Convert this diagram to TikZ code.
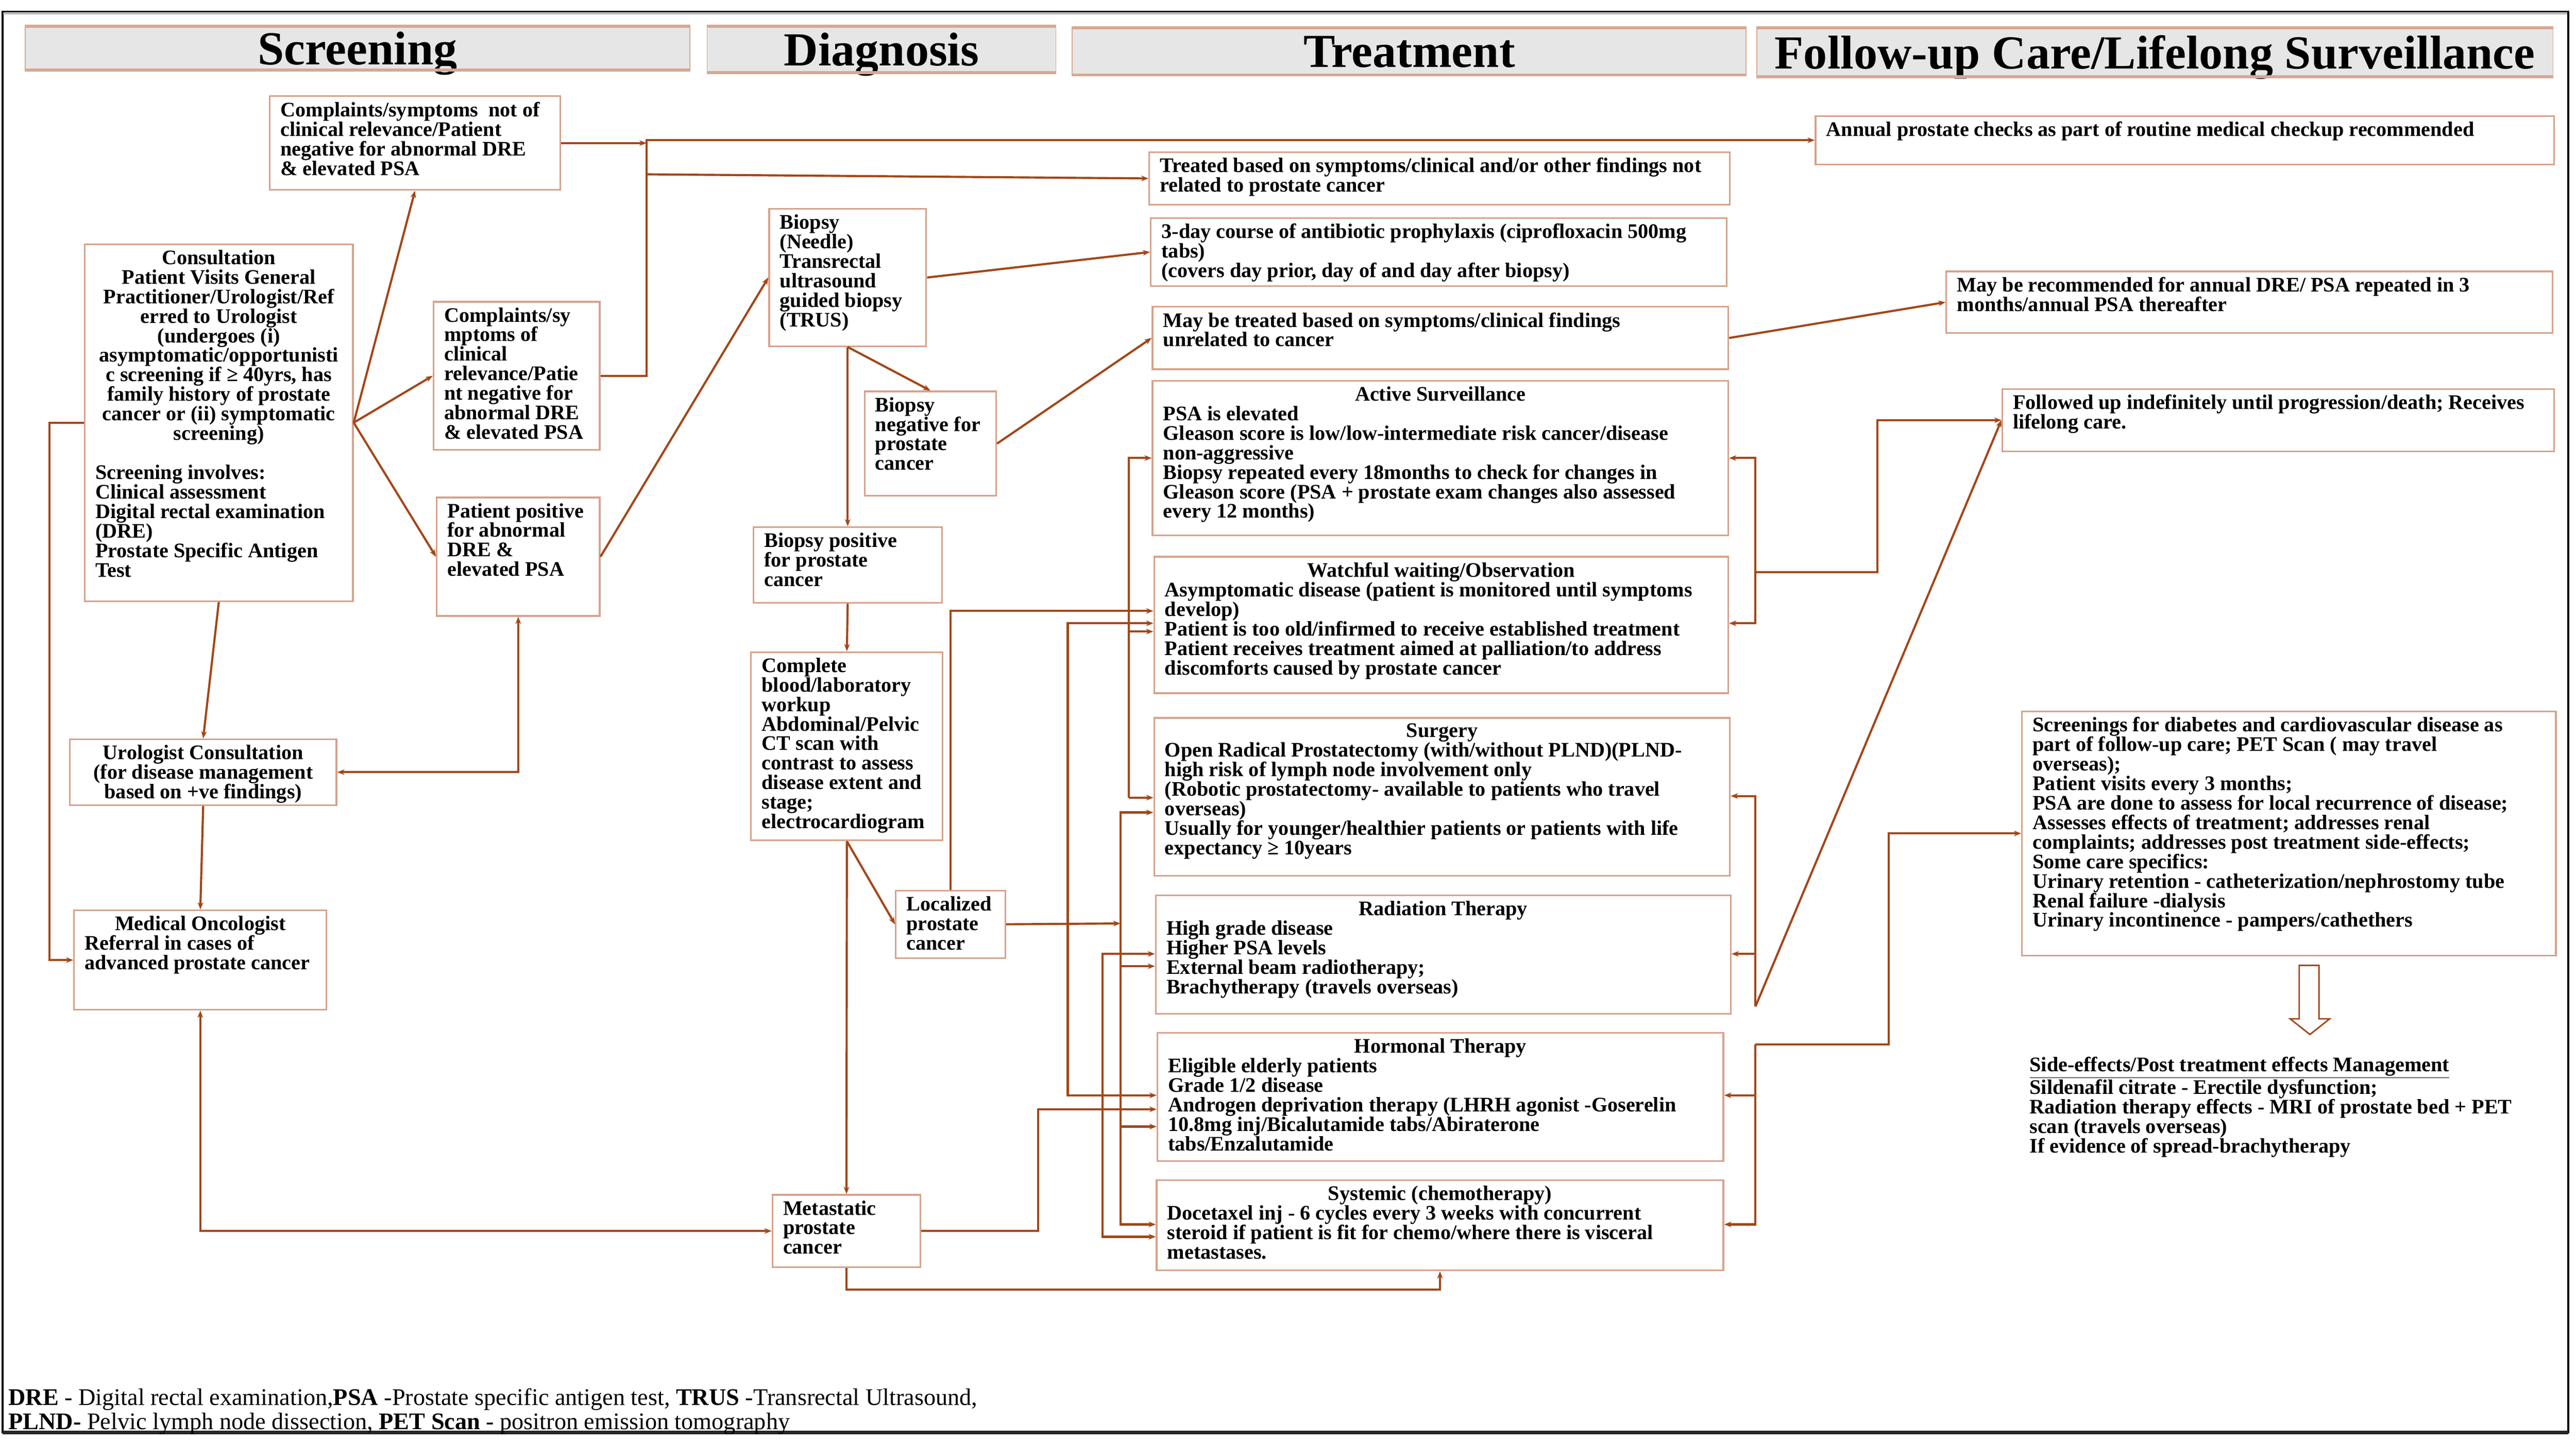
\documentclass[tikz,border=0pt]{standalone}
\usepackage{fontspec}
\setmainfont{Liberation Serif}
\usetikzlibrary{arrows.meta,calc}
\definecolor{conn}{RGB}{163,70,24}
\definecolor{boxc}{RGB}{214,162,138}
\definecolor{hdrfill}{RGB}{231,230,230}
\definecolor{hdrline}{RGB}{214,168,146}
\newlength\un \setlength\un{0.5mm}
\newlength\bxs \setlength\bxs{3.25mm}
\newlength\bys \setlength\bys{1.75mm}
\newcommand\bodyfont{\fontsize{17.9}{16.9}\selectfont\bfseries}
\newcommand\footfont{\fontsize{20.6}{20.9}\selectfont}
\newcommand\hdrfont{\fontsize{41}{45}\selectfont\bfseries}
\newcommand\flowbox[7][]{\node[box,#1] (#2) at (#3,#4) {\parbox[c][\dimexpr #6\un-#4\un-2\bys\relax][t]{\dimexpr #5\un-#3\un-2\bxs\relax}{\raggedright #7}};}
\newcommand\hdrbox[6]{%
  \node[hdr, minimum width={(#4-#2)*0.5mm}, minimum height={(#5-#3)*0.5mm}] (#1) at (#2,#3) {#6};
  \draw[hdrline, line width=0.9mm] (#1.north west) -- (#1.north east) (#1.south west) -- (#1.south east);}
\tikzset{
  box/.style={draw=boxc, line width=0.5mm, fill=white, anchor=north west, inner xsep=\bxs, inner ysep=\bys, font=\bodyfont, text=black},
  hdr/.style={draw=hdrline, line width=0.3mm, fill=hdrfill, anchor=north west, inner sep=0pt, text depth=0pt, font=\hdrfont},
  ln/.style={draw=conn, line width=0.65mm},
  arr/.style={ln, -{Stealth[length=2.2mm,width=1.7mm]}},
  arrr/.style={ln, {Stealth[length=2.2mm,width=1.7mm]}-{Stealth[length=2.2mm,width=1.7mm]}},
}
\begin{document}
\begin{tikzpicture}[x=0.5mm, y=-0.5mm]
\useasboundingbox (0,0) rectangle (1565.75,876);
\fill[white] (0,0) rectangle (1565.75,876);
% frame
\draw[black, line width=0.55mm] (1.5,7) rectangle (1561,871);
\draw[gray!60, line width=0.4mm] (2,8.3) -- (1560.5,8.3);
\draw[black!85, line width=1.1mm] (1.5,871) -- (1561,871);

% headers
\hdrbox{hScr}{15}{16}{419}{42}{Screening}
\hdrbox{hDia}{429.5}{16}{641.5}{43.5}{Diagnosis}
\hdrbox{hTre}{651.5}{17}{1061}{45}{Treatment}
\hdrbox{hFol}{1067.5}{17}{1551.5}{46}{Follow-up Care/Lifelong Surveillance}

% screening column
\flowbox{B1}{163.5}{58}{340}{115}{Complaints/symptoms\ \ not of\\ clinical relevance/Patient\\ negative for abnormal DRE\\ \& elevated PSA}
\flowbox{Cons}{51}{148}{214}{365}{{\centering Consultation\\ Patient Visits General\\ Practitioner/Urologist/Ref\\ erred to Urologist\\ (undergoes (i)\\ asymptomatic/opportunisti\\ c screening if ≥ 40yrs, has\\ family history of prostate\\ cancer or (ii) symptomatic\\ screening)\par}\vspace{\baselineskip}Screening involves:\\ Clinical assessment\\ Digital rectal examination\\ (DRE)\\ Prostate Specific Antigen\\ Test}
\flowbox{B2}{263}{183}{364}{273}{Complaints/sy\\ mptoms of\\ clinical\\ relevance/Patie\\ nt negative for\\ abnormal DRE\\ \& elevated PSA}
\flowbox{B3}{265}{302}{364}{374}{Patient positive\\ for abnormal\\ DRE \&\\ elevated PSA}
\flowbox{Uro}{42}{449}{204}{489}{{\centering Urologist Consultation\\ (for disease management\\ based on +ve findings)\par}}
\flowbox{MedOnc}{44.5}{553}{198}{613.5}{{\centering Medical Oncologist\par}Referral in cases of\\ advanced prostate cancer}

% diagnosis column
\flowbox{Biopsy}{467}{126.5}{562.5}{210}{Biopsy\\ (Needle)\\ Transrectal\\ ultrasound\\ guided biopsy\\ (TRUS)}
\flowbox{BiopNeg}{525}{237.5}{605}{301}{Biopsy\\ negative for\\ prostate\\ cancer}
\flowbox{BiopPos}{457.5}{320}{572}{366}{Biopsy positive\\ for prostate\\ cancer}
\flowbox{Complete}{456}{396}{572.5}{510.5}{Complete\\ blood/laboratory\\ workup\\ Abdominal/Pelvic\\ CT scan with\\ contrast to assess\\ disease extent and\\ stage;\\ electrocardiogram}
\flowbox{Loc}{544}{541}{610.5}{582}{Localized\\ prostate\\ cancer}
\flowbox{Meta}{469}{726}{559}{770}{Metastatic\\ prostate\\ cancer}

% treatment column
\flowbox{Treated}{698}{92}{1051}{124}{Treated based on symptoms/clinical and/or other findings not\\ related to prostate cancer}
\flowbox{ThreeDay}{699}{132}{1049}{173.5}{3-day course of antibiotic prophylaxis (ciprofloxacin 500mg\\ tabs)\\ (covers day prior, day of and day after biopsy)}
\flowbox{MayT}{700}{186}{1050}{224}{May be treated based on symptoms/clinical findings\\ unrelated to cancer}
\flowbox{AS}{700}{231}{1050}{325}{{\centering Active Surveillance\par}PSA is elevated\\ Gleason score is low/low-intermediate risk cancer/disease\\ non-aggressive\\ Biopsy repeated every 18months to check for changes in\\ Gleason score (PSA + prostate exam changes also assessed\\ every 12 months)}
\flowbox{Watch}{701}{338}{1050}{421}{{\centering Watchful waiting/Observation\par}Asymptomatic disease (patient is monitored until symptoms\\ develop)\\ Patient is too old/infirmed to receive established treatment\\ Patient receives treatment aimed at palliation/to address\\ discomforts caused by prostate cancer}
\flowbox{Surg}{701}{436}{1051}{532}{{\centering Surgery\par}Open Radical Prostatectomy (with/without PLND)(PLND-\\ high risk of lymph node involvement only\\ (Robotic prostatectomy- available to patients who travel\\ overseas)\\ Usually for younger/healthier patients or patients with life\\ expectancy ≥ 10years}
\flowbox{Rad}{702}{544}{1051.5}{616}{{\centering Radiation Therapy\par}High grade disease\\ Higher PSA levels\\ External beam radiotherapy;\\ Brachytherapy (travels overseas)}
\flowbox{Horm}{703}{627.5}{1047}{705.5}{{\centering Hormonal Therapy\par}Eligible elderly patients\\ Grade 1/2 disease\\ Androgen deprivation therapy (LHRH agonist -Goserelin\\ 10.8mg inj/Bicalutamide tabs/Abiraterone\\ tabs/Enzalutamide}
\flowbox{Sys}{702.5}{717}{1047}{772}{{\centering Systemic (chemotherapy)\par}Docetaxel inj - 6 cycles every 3 weeks with concurrent\\ steroid if patient is fit for chemo/where there is visceral\\ metastases.}

% follow-up column
\flowbox{Annual}{1103}{70}{1552}{99.5}{Annual prostate checks as part of routine medical checkup recommended}
\flowbox{MayRec}{1182.5}{164.5}{1551}{202}{May be recommended for annual DRE/ PSA repeated in 3\\ months/annual PSA thereafter}
\flowbox{Followed}{1216.5}{236}{1552}{274}{Followed up indefinitely until progression/death; Receives\\ lifelong care.}
\flowbox{Screen}{1228.5}{432}{1553}{580.5}{Screenings for diabetes and cardiovascular disease as\\ part of follow-up care; PET Scan ( may travel\\ overseas);\\ Patient visits every 3 months;\\ PSA are done to assess for local recurrence of disease;\\ Assesses effects of treatment; addresses renal\\ complaints; addresses post treatment side-effects;\\ Some care specifics:\\ Urinary retention - catheterization/nephrostomy tube\\ Renal failure -dialysis\\ Urinary incontinence - pampers/cathethers}
\node[anchor=base west, inner sep=0pt, font=\bodyfont] (Side) at (1233.5,651.5) {\parbox[t]{170mm}{\raggedright\underline{Side-effects/Post treatment effects Management}\\ Sildenafil citrate - Erectile dysfunction;\\ Radiation therapy effects - MRI of prostate bed + PET\\ scan (travels overseas)\\ If evidence of spread-brachytherapy}};
\draw[conn, line width=0.45mm, fill=white] (1397.5,587) -- (1409.5,587) -- (1409.5,619.5) -- (1416,619.5) -- (1404,629) -- (1392,619.5) -- (1397.5,619.5) -- cycle;

% footer
\node[anchor=base west, inner sep=0pt, font=\footfont] (Foot) at (5,854.5) {\parbox[t]{300mm}{\raggedright\textbf{DRE} - Digital rectal examination,\textbf{PSA} -Prostate specific antigen test, \textbf{TRUS} -Transrectal Ultrasound,\\ \textbf{PLND-} Pelvic lymph node dissection, \textbf{PET Scan} - positron emission tomography}};

% junction coordinates
\coordinate (jT) at (393,86);
\coordinate (jT2) at (393,106);
\coordinate (cB) at (649,561.5);
\coordinate (cC) at (681,561.5);
\coordinate (cD) at (686,485);
\coordinate (cE) at (670,674.5);
\coordinate (cM) at (631,674.5);
\coordinate (rU) at (1067,348);
\coordinate (rL1) at (1067,612);
\coordinate (rL2) at (1067,635);

% screening connectors
\draw[arr] (Cons.east) -- (B1.south);
\draw[arr] (Cons.east) -- (B2.west);
\draw[arr] (Cons.east) -- (B3.west);
\draw[arr] (Cons.south) -- (Uro.north);
\draw[arr] (Uro.south) -- (MedOnc.north);
\draw[arr] (Cons.west) -- ++(-21,0) |- (MedOnc.west);
\draw[arrr] (Uro.east) -| (B3.south);
\draw[arrr] (Meta.west) -| (MedOnc.south);
\draw[arr] (B1.east) -- (B1.east -| jT);
\draw[arr] (B2.east) -| (jT |- Annual.west) -- (Annual.west);
\draw[arr] (jT2) -- (Treated.west);
\draw[arr] (B3.east) -- (Biopsy.west);

% diagnosis connectors
\draw[arr] (Biopsy.east) -- (ThreeDay.west);
\draw[arr] (Biopsy.south) -- (BiopPos.north);
\draw[arr] (Biopsy.south) -- (BiopNeg.north);
\draw[arr] (BiopNeg.east) -- (MayT.west);
\draw[arr] (BiopPos.south) -- (Complete.north);
\draw[arr] (Complete.south) -- (Loc.west);
\draw[arr] (Complete.south) -- (Meta.north);
\draw[arr] (Meta.south) -- ++(0,13) -| (Sys.south);
\draw[arr] (MayT.east) -- (MayRec.west);

% treatment feeders (left)
\draw[arr] (Loc.north) |- (Watch.west |- 0,371.5);
\draw[arr] (Loc.east) -- (cC);
\draw[arr] (cB) |- (Watch.west |- 0,379);
\draw[arr] (cB) |- (Horm.west |- 0,666);
\draw[arr] (cC) |- (Surg.west |- 0,494);
\draw[arr] (cC) |- (Sys.west |- 0,744.5);
\draw[arr] (cC |- 0,587.5) -- (Rad.west |- 0,587.5);
\draw[arr] (cC |- 0,685) -- (Horm.west |- 0,685);
\draw[arr] (cD) |- (AS.west);
\draw[arr] (cD) -- (Surg.west |- cD);
\draw[arr] (cD |- 0,384) -- (Watch.west |- 0,384);
\draw[arr] (Meta.east) -| (cM) -- (Horm.west |- cM);
\draw[arr] (cE) |- (Rad.west |- 0,580);
\draw[arr] (cE) |- (Sys.west |- 0,752);

% treatment outputs (right)
\draw[arr] (rU) |- (AS.east);
\draw[arr] (rU) |- (Watch.east |- 0,379);
\draw[arr] (rU) -- (1141,348) |- (Followed.west);
\draw[arr] (rL1) |- (Surg.east |- 0,484);
\draw[arr] (rL2) |- (Sys.east |- 0,744.5);
\draw[arr] (rL1 |- 0,580) -- (Rad.east |- 0,580);
\draw[arr] (rL1 |- 0,666) -- (Horm.east |- 0,666);
\draw[arr] (rL1) -- (Followed.west);
\draw[arr] (rL2) -- (1148,635) |- (Screen.west);
\end{tikzpicture}
\end{document}
